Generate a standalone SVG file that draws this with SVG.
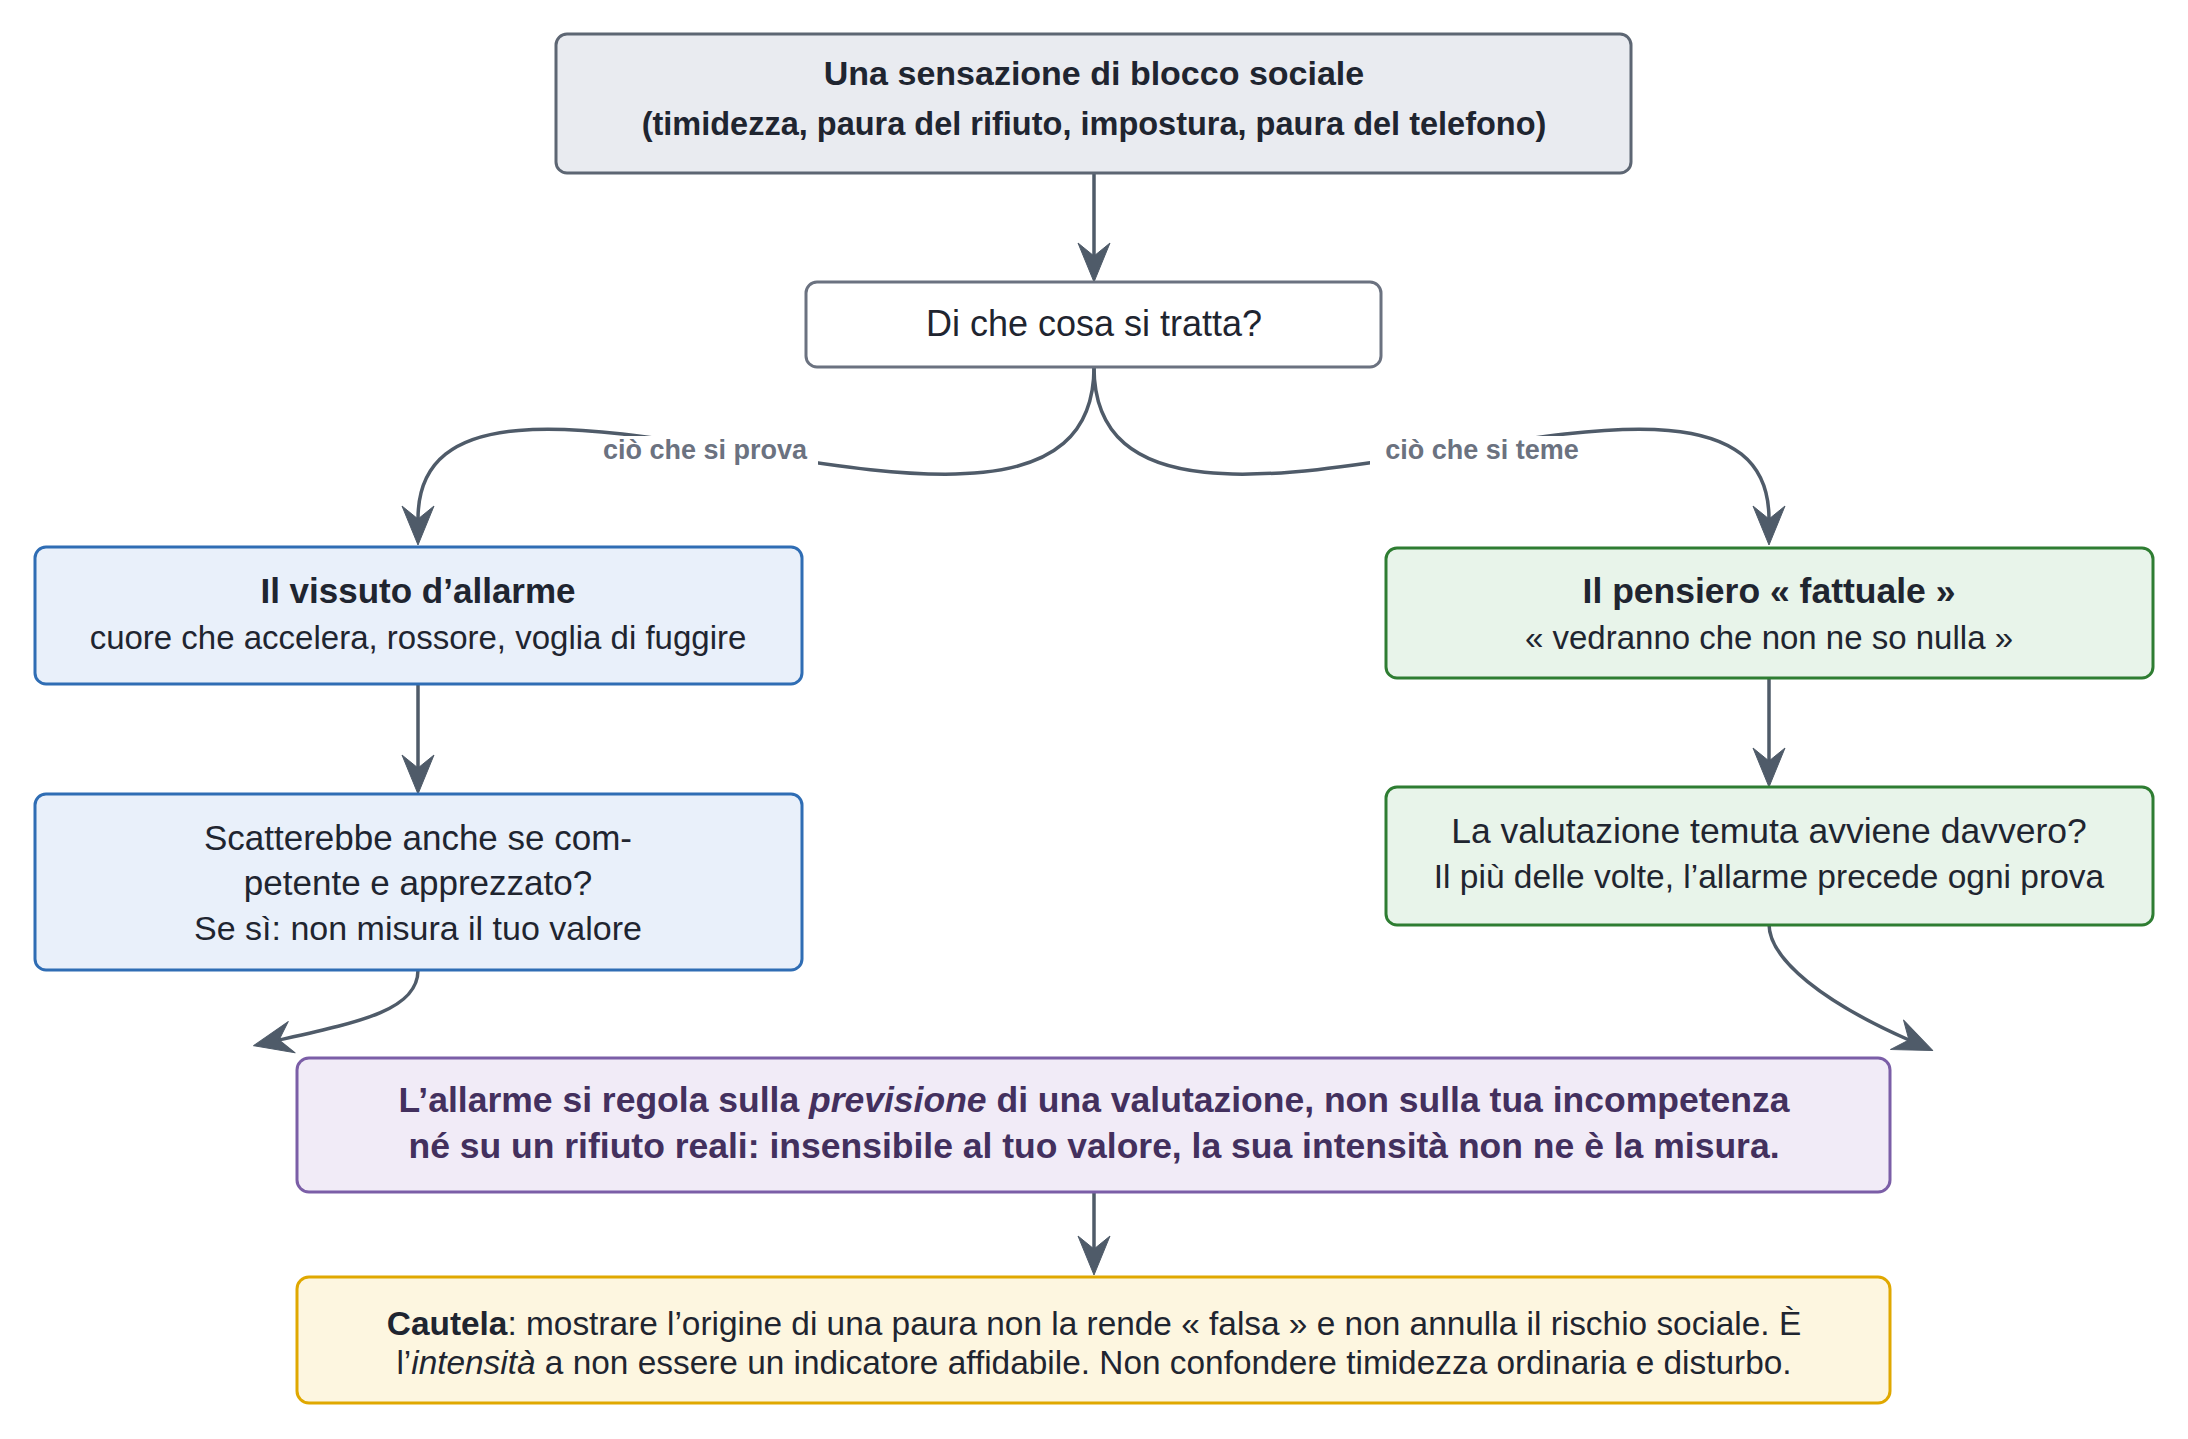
<svg xmlns="http://www.w3.org/2000/svg" width="2188" height="1439" viewBox="0 0 2188 1439">
<style>
  text { font-family: "Liberation Sans", Arial, sans-serif; fill: #1f2530; text-anchor: middle; }
  .b { font-weight: bold; }
  .box { stroke-width: 3; }
  .gray { fill: #e9ebf0; stroke: #5d6673; }
  .white { fill: #ffffff; stroke: #6b7280; }
  .blue { fill: #e9f0fa; stroke: #2f6db4; }
  .green { fill: #e8f4ea; stroke: #2e7d32; }
  .purple { fill: #f1ebf7; stroke: #7b5ea7; }
  .yellow { fill: #fdf6e0; stroke: #e0a800; }
  .conn { fill: none; stroke: #4f5b69; stroke-width: 3.5; marker-end: url(#arr); }
  .lbl { fill: #6b7280; font-weight: bold; font-size: 27px; }
  .ptxt { fill: #43305e; font-weight: bold; font-size: 35.5px; }
</style>
<defs>
  <marker id="arr" viewBox="-42 -18 46 36" refX="-25" refY="0" markerWidth="46" markerHeight="36" markerUnits="userSpaceOnUse" orient="auto">
    <path d="M1,0 L-38,-16 L-25,0 L-38,16 Z" fill="#4f5b69" stroke="#4f5b69" stroke-width="1" stroke-linejoin="round"/>
  </marker>
</defs>
<rect width="2188" height="1439" fill="#ffffff"/>

<g id="connectors">
  <path class="conn" d="M1094,172 L1094,256"/>
  <path class="conn" d="M1094,367 C1094,641 418,273 418,519"/>
  <path class="conn" d="M1094,367 C1094,641 1769,273 1769,519"/>
  <path class="conn" d="M418,684 L418,768"/>
  <path class="conn" d="M1769,678 L1769,761"/>
  <path class="conn" d="M418,970 C418,1010 360,1022 279,1040"/>
  <path class="conn" d="M1769,924 C1769,960 1825,1003 1909,1040"/>
  <path class="conn" d="M1094,1192 L1094,1249"/>
  <g id="label-prova">
    <rect x="592" y="436" width="226" height="40" fill="#ffffff"/>
    <text class="lbl" x="705" y="459">ciò che si prova</text>
  </g>
  <g id="label-teme">
    <rect x="1370" y="436" width="226" height="40" fill="#ffffff"/>
    <text class="lbl" x="1482" y="459">ciò che si teme</text>
  </g>
</g>

<g id="n-top">
  <rect class="box gray" x="556" y="34" width="1075" height="139" rx="11"/>
  <text class="b" x="1094" y="85" font-size="34">Una sensazione di blocco sociale</text>
  <text class="b" x="1094" y="135" font-size="32.5">(timidezza, paura del rifiuto, impostura, paura del telefono)</text>
</g>

<g id="n-question">
  <rect class="box white" x="806" y="282" width="575" height="85" rx="11"/>
  <text x="1094" y="336" font-size="36">Di che cosa si tratta?</text>
</g>

<g id="n-vissuto">
  <rect class="box blue" x="35" y="547" width="767" height="137" rx="11"/>
  <text class="b" x="418" y="603" font-size="35">Il vissuto d’allarme</text>
  <text x="418" y="649" font-size="33">cuore che accelera, rossore, voglia di fuggire</text>
</g>

<g id="n-scatterebbe">
  <rect class="box blue" x="35" y="794" width="767" height="176" rx="11"/>
  <text x="418" y="850" font-size="35">Scatterebbe anche se com-</text>
  <text x="418" y="895" font-size="35">petente e apprezzato?</text>
  <text x="418" y="940" font-size="34">Se sì: non misura il tuo valore</text>
</g>

<g id="n-pensiero">
  <rect class="box green" x="1386" y="548" width="767" height="130" rx="11"/>
  <text class="b" x="1769" y="603" font-size="35.5">Il pensiero « fattuale »</text>
  <text x="1769" y="649" font-size="33">« vedranno che non ne so nulla »</text>
</g>

<g id="n-valutazione">
  <rect class="box green" x="1386" y="787" width="767" height="138" rx="11"/>
  <text x="1769" y="843" font-size="35.5">La valutazione temuta avviene davvero?</text>
  <text x="1769" y="888" font-size="33.5">Il più delle volte, l’allarme precede ogni prova</text>
</g>

<g id="n-sintesi">
  <rect class="box purple" x="297" y="1058" width="1593" height="134" rx="12"/>
  <text class="ptxt" x="1094" y="1112">L’allarme si regola sulla <tspan font-style="italic">previsione</tspan> di una valutazione, non sulla tua incompetenza</text>
  <text class="ptxt" x="1094" y="1158">né su un rifiuto reali: insensibile al tuo valore, la sua intensità non ne è la misura.</text>
</g>

<g id="n-cautela">
  <rect class="box yellow" x="297" y="1277" width="1593" height="126" rx="12"/>
  <text x="1094" y="1335" font-size="33.4"><tspan font-weight="bold">Cautela</tspan>: mostrare l’origine di una paura non la rende « falsa » e non annulla il rischio sociale. È</text>
  <text x="1094" y="1374" font-size="33.4">l’<tspan font-style="italic">intensità</tspan> a non essere un indicatore affidabile. Non confondere timidezza ordinaria e disturbo.</text>
</g>
</svg>
